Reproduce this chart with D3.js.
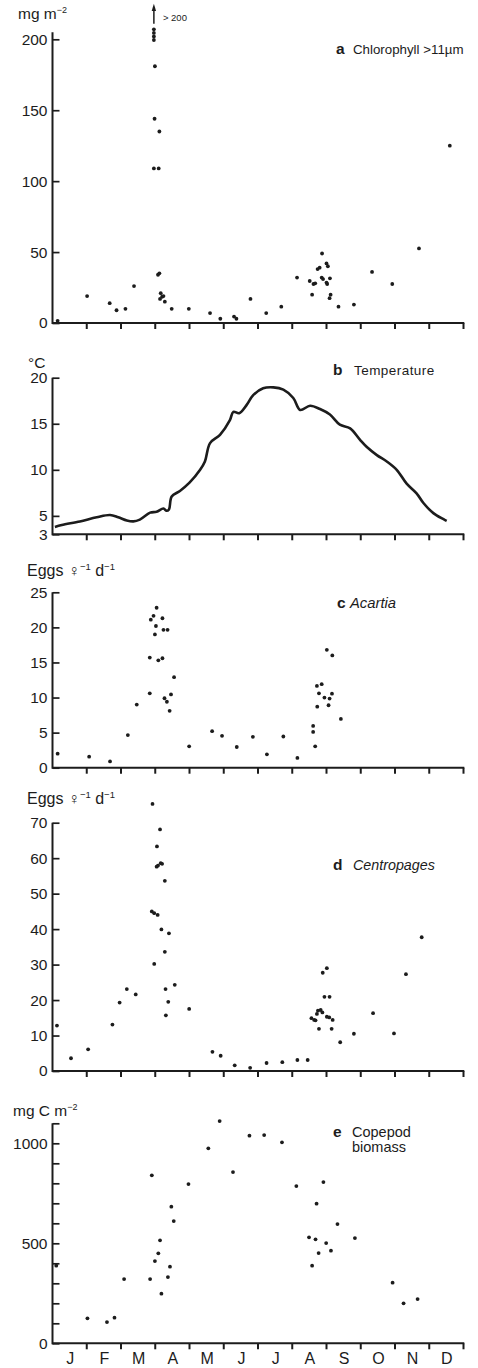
<!DOCTYPE html>
<html><head><meta charset="utf-8">
<script src="https://cdn.jsdelivr.net/npm/d3@7"></script>
<style>
html,body{margin:0;padding:0;background:#fff;}
svg text{font-family:"Liberation Sans",Arial,Helvetica,sans-serif;fill:#1c1c1c;}
</style></head>
<body><svg id="c" width="478" height="1368"></svg>
<script>
// ---------- DATA (x = month of year, 0 = 1 Jan, 12 = 31 Dec) ----------
const monthLabels = ["J","F","M","A","M","J","J","A","S","O","N","D"];
const monthTicks = [1,2,3,4,5,6,7,8,9,10,11,12];

// a  Chlorophyll >11um (mg m-2)
const chlMonth = [0.15,1.01,1.67,1.87,2.13,2.38,2.96,2.96,2.96,2.96,2.99,2.98,3.12,2.96,3.1,3.08,3.12,3.16,3.2,3.14,3.28,3.24,3.48,3.98,4.6,4.9,5.3,5.37,
  5.78,6.24,6.68,7.14,7.87,7.74,7.8,8.0,8.04,7.51,7.62,7.67,7.86,7.9,8.1,8.02,8.0,7.58,8.12,8.09,8.35,8.8,9.33,9.92,10.7,11.6];
const chlValue = [1.5,19,14,9,10,26,207,204.5,202,199.5,181,144,135,109,109,34,35,21,18.5,17,15,19,10,10,7,3,4.5,3,
  17,7,11.5,32,49,38,39,42,40,29.6,27.5,28,32,31,31.5,27.5,28.5,20,20,17.5,11.5,13,36,27.5,52.6,125];
const chlOffscale = [2.96]; // months with values > 200 (arrow)

// b  Temperature (°C)
const tempMonth = [0.07,0.27,0.8,1.29,1.68,1.92,2.17,2.36,2.55,2.85,3.04,3.24,3.33,3.4,3.48,3.72,4.0,4.31,4.45,4.6,4.89,5.18,5.28,5.45,5.67,5.86,6.15,6.45,6.74,7.03,7.23,7.52,7.81,8.1,8.39,8.69,8.98,9.17,9.47,9.76,10.05,10.34,10.63,10.83,11.12,11.51];
const tempValue = [3.8,4.0,4.4,4.85,5.1,4.85,4.5,4.4,4.6,5.35,5.45,5.8,5.55,5.7,7.1,7.7,8.6,10.0,10.9,12.9,13.8,15.4,16.3,16.15,17.05,18.1,18.85,18.95,18.7,17.8,16.5,16.95,16.6,16.0,14.9,14.5,13.25,12.5,11.6,10.9,10.0,8.5,7.45,6.4,5.3,4.45];

// c  Acartia egg production (eggs female-1 d-1)
const acaMonth = [0.15,1.07,1.68,2.2,2.46,2.84,2.84,2.87,2.95,2.99,3.02,3.04,3.09,3.21,3.21,3.24,3.36,3.27,3.34,3.42,3.46,3.55,3.99,4.66,4.95,5.38,
  5.85,6.26,6.74,7.15,7.67,7.61,7.61,7.73,7.72,7.86,7.78,7.94,8.09,8.16,8.06,8.01,8.17,8.42];
const acaValue = [2.0,1.57,0.9,4.65,9.0,10.6,15.7,21.1,21.65,19.0,20.2,22.8,15.3,15.6,21.3,19.65,19.65,9.9,9.4,8.1,10.45,12.9,3.05,5.2,4.55,2.95,
  4.4,1.9,4.45,1.4,3.05,5.1,5.95,8.7,11.65,11.9,10.6,10.0,9.85,10.55,8.9,16.8,16.0,6.95];

// d  Centropages egg production (eggs female-1 d-1)
const cenMonth = [0.13,0.54,1.04,1.75,1.96,2.17,2.43,2.92,2.9,2.97,3.07,2.97,3.05,3.04,3.08,3.16,3.2,3.14,3.18,3.28,3.28,3.3,3.31,3.38,3.4,3.57,3.99,4.67,4.91,5.32,
  5.77,6.25,6.71,7.15,7.45,7.89,8.01,7.94,8.09,7.56,7.64,7.72,7.75,7.83,7.88,7.68,8.01,8.08,8.18,7.78,8.15,8.4,8.8,9.36,9.97,10.32,10.78];
const cenValue = [12.8,3.6,6.1,13.1,19.3,23.1,21.6,75.3,45.0,44.5,44.0,30.2,63.3,57.6,57.9,58.6,58.4,68.1,39.9,53.6,33.6,23.1,15.7,19.5,38.8,24.3,17.5,5.4,4.3,1.6,
  0.9,2.25,2.5,3.1,3.1,27.7,29.0,20.9,20.9,14.9,14.4,16.1,17.0,17.2,16.5,14.3,15.3,15.1,14.4,11.9,11.9,8.1,10.5,16.3,10.6,27.3,37.7];

// e  Copepod biomass (mg C m-2)
const bioMonth = [0.11,1.02,1.59,1.81,2.09,2.85,2.9,2.99,3.09,3.14,3.18,3.37,3.43,3.47,3.54,3.97,4.55,4.88,5.27,
  5.75,6.18,6.7,7.12,7.91,7.71,8.32,7.49,7.68,7.99,7.77,8.13,7.58,8.83,9.93,10.25,10.66];
const bioValue = [388,125,106,128,321,321,840,411,450,515,248,331,383,683,611,796,975,1111,856,
  1038,1041,1005,786,806,698,596,530,520,501,451,463,388,526,303,200,221];

// ---------- DRAWING ----------
const ink = "#1c1c1c";
const svg = d3.select("#c");
const x = d3.scaleLinear().domain([0,12]).range([52.5,463.5]);

function panel(o){
  const g = svg.append("g");
  const y = d3.scaleLinear().domain(o.domain).range(o.range);
  const y0 = y(o.domain[0]);
  g.append("line").attr("x1",x(0)).attr("x2",x(12)+0.8).attr("y1",y0).attr("y2",y0)
    .attr("stroke",ink).attr("stroke-width",2);
  // month ticks (pointing down)
  g.append("g").selectAll("line").data(monthTicks).join("line")
    .attr("x1",d=>x(d)).attr("x2",d=>x(d)).attr("y1",y0).attr("y2",y0+6)
    .attr("stroke",ink).attr("stroke-width",2);
  g.append("line").attr("x1",x(0)).attr("x2",x(0)).attr("y1",y0+1).attr("y2",y(o.axisTop))
    .attr("stroke",ink).attr("stroke-width",2);
  const ya = g.append("g").attr("transform",`translate(${x(0)},0)`)
    .call(d3.axisLeft(y).tickValues(o.ticks).tickSizeInner(-7).tickSizeOuter(0).tickPadding(5)
      .tickFormat(d => o.labels.includes(d) ? d : ""));
  ya.select(".domain").remove();
  ya.selectAll("line").attr("stroke",ink).attr("stroke-width",1.7);
  ya.selectAll("text").attr("font-size",15.5).attr("fill",ink);
  return {g,y};
}

function dots(p, xs, ys){
  p.g.append("g").selectAll("circle").data(xs.map((d,i)=>[d,ys[i]])).join("circle")
    .attr("cx",d=>x(d[0])).attr("cy",d=>p.y(d[1])).attr("r",1.9).attr("fill",ink);
}

function title(letter, lines, lx, tx, by, size, italic, spacing){
  const t = svg.append("g");
  t.append("text").attr("x",lx).attr("y",by).attr("font-size",15.5).attr("font-weight","bold").text(letter);
  lines.forEach((s,i)=>{
    t.append("text").attr("x",tx).attr("y",by+i*15).attr("font-size",size)
      .attr("letter-spacing",spacing||0)
      .attr("font-style",italic?"italic":"normal").text(s);
  });
}

// a
const pa = panel({domain:[0,200],range:[323,39.3],axisTop:205,ticks:[0,50,100,150,200],labels:[0,50,100,150,200]});
dots(pa, chlMonth, chlValue);
chlOffscale.forEach(m=>{
  pa.g.append("line").attr("x1",x(m)).attr("x2",x(m)).attr("y1",pa.y(211)).attr("y2",pa.y(221))
    .attr("stroke",ink).attr("stroke-width",1.5);
  pa.g.append("path").attr("d",`M${x(m)-2.2},${pa.y(220)} L${x(m)},${pa.y(225)} L${x(m)+2.2},${pa.y(220)} Z`).attr("fill",ink);
  pa.g.append("text").attr("x",x(m)+9).attr("y",pa.y(213)).attr("font-size",9.5).text("> 200");
});
const ua = svg.append("text").attr("x",18).attr("y",19).attr("font-size",15.5);
ua.append("tspan").text("mg m");
ua.append("tspan").attr("font-size",9).attr("dy",-6).text("−2");
title("a",["Chlorophyll >11µm"],336,353,54,13.3,false);

// b
const pb = panel({domain:[3,20],range:[534.3,377.7],axisTop:20,ticks:[5,10,15,20,3],labels:[3,5,10,15,20]});
pb.g.append("path").datum(tempMonth.map((d,i)=>[d,tempValue[i]]))
  .attr("d",d3.line().x(d=>x(d[0])).y(d=>pb.y(d[1])).curve(d3.curveCatmullRom.alpha(0.5)))
  .attr("fill","none").attr("stroke",ink).attr("stroke-width",2.6).attr("stroke-linejoin","round");
svg.append("text").attr("x",28).attr("y",368).attr("font-size",15.5).text("°C");
title("b",["Temperature"],333,354,375,13.5,false,0.45);

// c
const pc = panel({domain:[0,25],range:[767.7,592.3],axisTop:25,ticks:[0,5,10,15,20,25],labels:[0,5,10,15,20,25]});
dots(pc, acaMonth, acaValue);
function eggs(yb){
  const t = svg.append("text").attr("x",27).attr("y",yb).attr("font-size",16);
  t.append("tspan").text("Eggs ♀");
  t.append("tspan").attr("font-size",9.5).attr("dy",-6).text("−1");
  t.append("tspan").attr("dy",6).text(" d");
  t.append("tspan").attr("font-size",9.5).attr("dy",-6).text("−1");
}
eggs(576);
title("c",["Acartia"],337,350,608,14.8,true);

// d
const pd = panel({domain:[0,70],range:[1071,822.7],axisTop:70,ticks:[0,10,20,30,40,50,60,70],labels:[0,10,20,30,40,50,60,70]});
dots(pd, cenMonth, cenValue);
eggs(804);
title("d",["Centropages"],333,353,870,14.3,true);

// e
const pe = panel({domain:[0,1000],range:[1343.3,1143.3],axisTop:1100,ticks:d3.range(0,1101,100),labels:[0,500,1000]});
dots(pe, bioMonth, bioValue);
const ue = svg.append("text").attr("x",13).attr("y",1116).attr("font-size",15.5);
ue.append("tspan").text("mg C m");
ue.append("tspan").attr("font-size",9).attr("dy",-6).text("−2");
title("e",["Copepod","biomass"],333,352,1137,14.5,false);
// month labels
const ma = svg.append("g").attr("transform",`translate(0,${pe.y(0)})`)
  .call(d3.axisBottom(x).tickValues(d3.range(0.5,12,1)).tickSize(0).tickPadding(9)
    .tickFormat((d,i)=>monthLabels[i]));
ma.select(".domain").remove();
ma.selectAll("text").attr("font-size",16).attr("fill",ink);
</script></body></html>
